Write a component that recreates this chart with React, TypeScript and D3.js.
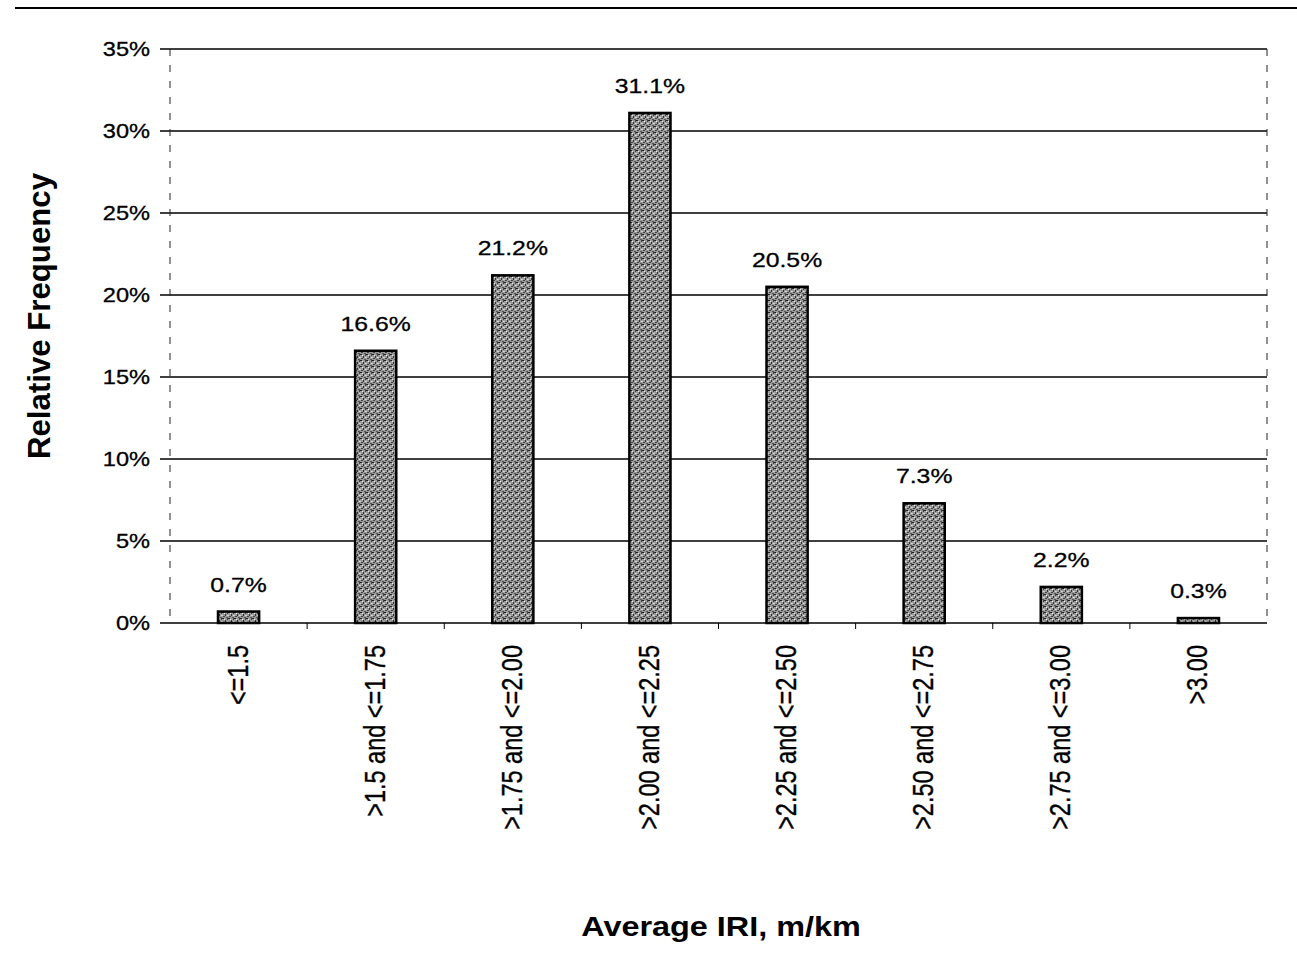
import React from "react";
import * as d3 from "d3";

const categories = [
  "<=1.5",
  ">1.5 and <=1.75",
  ">1.75 and <=2.00",
  ">2.00 and <=2.25",
  ">2.25 and <=2.50",
  ">2.50 and <=2.75",
  ">2.75 and <=3.00",
  ">3.00",
];
const values = [0.7, 16.6, 21.2, 31.1, 20.5, 7.3, 2.2, 0.3];
const yTicks = [0, 5, 10, 15, 20, 25, 30, 35];
const yTitle = "Relative Frequency";
const xTitle = "Average IRI, m/km";

const W = 1297;
const H = 955;
const plotLeft = 170;
const plotRight = 1267;
const plotTop = 49;
const plotBottom = 623;
const FONT = "'Liberation Sans', Arial, Helvetica, sans-serif";

export default function App() {
  const x = d3.scaleBand<string>().domain(categories).range([plotLeft, plotRight]).paddingInner(0.7).paddingOuter(0.35);
  const band = d3.scaleBand<string>().domain(categories).range([plotLeft, plotRight]);
  const y = d3.scaleLinear().domain([0, 35]).range([plotBottom, plotTop]);

  return (
    <svg width={W} height={H} style={{ position: "absolute", left: 0, top: 0, background: "#fff" }}>
      <defs>
        <pattern id="speckle" width="6" height="6" patternUnits="userSpaceOnUse">
          <rect width="6" height="6" fill="#9a9a9a" />
          <rect x="0" y="0" width="2" height="1" fill="#222" />
          <rect x="3" y="2" width="1" height="2" fill="#333" />
          <rect x="1" y="4" width="2" height="1" fill="#444" />
          <rect x="5" y="3" width="1" height="1" fill="#ddd" />
          <rect x="2" y="1" width="1" height="1" fill="#eee" />
          <rect x="4" y="5" width="2" height="1" fill="#555" />
          <rect x="5" y="0" width="1" height="2" fill="#444" />
          <rect x="0" y="3" width="1" height="1" fill="#ccc" />
        </pattern>
      </defs>
      {/* top rule */}
      <line x1={15} x2={W} y1={8} y2={8} stroke="#000" strokeWidth={2} />
      {/* gridlines */}
      {yTicks.map((t) => (
        <g key={t}>
          <line x1={160} x2={plotRight} y1={y(t)} y2={y(t)} stroke="#000" strokeWidth={1.5} />
          <text
            transform={`translate(150,${y(t) + 7}) scale(1.18,1)`}
            textAnchor="end"
            fontFamily={FONT}
            fontSize={20}
            fill="#000"
            stroke="#000"
            strokeWidth={0.3}
          >
            {t}%
          </text>
        </g>
      ))}
      {/* dashed side borders */}
      <line x1={plotLeft} x2={plotLeft} y1={plotTop} y2={plotBottom} stroke="#222" strokeWidth={1} strokeDasharray="7,9" />
      <line x1={plotRight} x2={plotRight} y1={plotTop} y2={plotBottom} stroke="#222" strokeWidth={1} strokeDasharray="7,9" />
      {/* category boundary ticks */}
      {categories.slice(1).map((c) => (
        <line key={c} x1={band(c)!} x2={band(c)!} y1={plotBottom} y2={plotBottom + 6} stroke="#000" strokeWidth={1} />
      ))}
      {/* bars */}
      {categories.map((c, i) => (
        <g key={c}>
          <rect
            x={x(c)!}
            y={y(values[i])}
            width={x.bandwidth()}
            height={plotBottom - y(values[i])}
            fill="url(#speckle)"
            stroke="#000"
            strokeWidth={2.5}
          />
          <text
            transform={`translate(${x(c)! + x.bandwidth() / 2},${y(values[i]) - 20}) scale(1.18,1)`}
            textAnchor="middle"
            fontFamily={FONT}
            fontSize={21}
            fill="#000"
            stroke="#000"
            strokeWidth={0.3}
          >
            {values[i].toFixed(1)}%
          </text>
          <text
            transform={`translate(${x(c)! + x.bandwidth() / 2 + 9},${645}) rotate(-90) scale(1,1.22)`}
            textAnchor="end"
            fontFamily={FONT}
            fontSize={23.5}
            fill="#000"
            stroke="#000"
            strokeWidth={0.3}
          >
            {c}
          </text>
        </g>
      ))}
      {/* axis titles */}
      <text
        transform={`translate(50,316) rotate(-90) scale(1.2,1.2)`}
        textAnchor="middle"
        fontFamily={FONT}
        fontSize={26}
        fontWeight="bold"
        fill="#000"
      >
        {yTitle}
      </text>
      <text
        transform={`translate(721,936) scale(1.2,1)`}
        textAnchor="middle"
        fontFamily={FONT}
        fontSize={27}
        fontWeight="bold"
        fill="#000"
      >
        {xTitle}
      </text>
    </svg>
  );
}
